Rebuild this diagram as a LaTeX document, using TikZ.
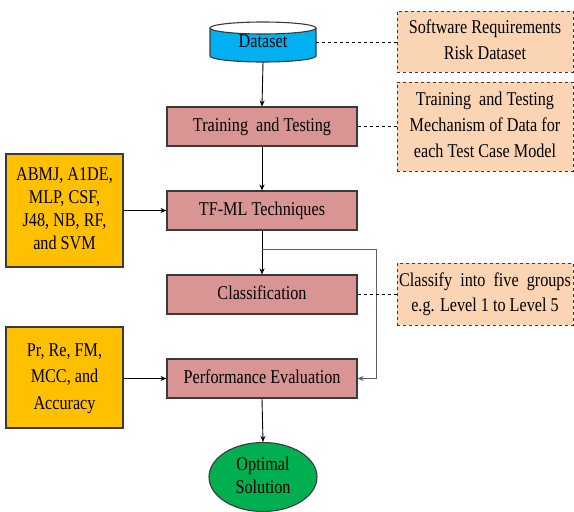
\documentclass[tikz,border=0pt]{standalone}
\usepackage{fontspec}
\setmainfont{Liberation Serif}
\usetikzlibrary{arrows.meta,shapes.geometric}
\definecolor{stepfill}{HTML}{D99594}
\definecolor{inputfill}{HTML}{FFC000}
\definecolor{notefill}{HTML}{FBD4B4}
\definecolor{dbfill}{HTML}{00B0F0}
\definecolor{endfill}{HTML}{00B050}
\definecolor{edge}{HTML}{3A3A3A}
% condensed multi-line label
\newcommand{\narrowtxt}[1]{\scalebox{0.83}[1]{\begin{tabular}{@{}c@{}}#1\end{tabular}}}
\tikzset{
  x=1pt, y=-1pt,
  txt/.style={font=\fontsize{19.5}{26}\selectfont, align=center, inner sep=0pt},
  stepbox/.style={txt, draw=edge, line width=1.1pt, fill=stepfill,
    minimum width=190pt, minimum height=39pt},
  inputbox/.style={txt, draw=edge, line width=1.1pt, fill=inputfill,
    minimum width=117pt},
  notebox/.style={txt, draw=edge, line width=1pt, dashed, fill=notefill,
    minimum width=176pt},
  flow/.style={draw=black, line width=0.9pt, -{Stealth[length=6pt,width=5pt]}},
  link/.style={draw=black, line width=1pt, dashed},
  side/.style={draw=gray!75!black, line width=0.9pt, -{Stealth[length=6pt,width=5pt]}}
}
\begin{document}
\begin{tikzpicture}
\useasboundingbox (0,0) rectangle (574,512);

% database cylinder
\fill[dbfill] (210,28) -- (210,56) arc[start angle=180, end angle=360, x radius=53, y radius=-6]
  -- (316,28) arc[start angle=0, end angle=180, x radius=53, y radius=6] -- cycle;
\draw[edge, line width=1.1pt] (210,28) -- (210,56) arc[start angle=180, end angle=360, x radius=53, y radius=-6]
  -- (316,28);
\draw[edge, line width=1.1pt] (263,28) ellipse[x radius=53, y radius=6];
\node[txt, minimum width=106pt, minimum height=40pt] (data) at (263,42) {\raisebox{-3pt}{\narrowtxt{Dataset}}};

% main steps
\node[stepbox] (train) at (262,126.5) {\narrowtxt{Training\ \ and Testing}};
\node[stepbox] (tech)  at (262,210.5) {\narrowtxt{TF-ML Techniques}};
\node[stepbox] (cls)   at (262,294.5) {\narrowtxt{Classification}};
\node[stepbox] (perf)  at (262,378.5) {\narrowtxt{Performance Evaluation}};
\node[ellipse, draw=edge, line width=1.1pt, fill=endfill, minimum width=108pt, minimum height=69pt,
  inner sep=0pt, align=center, font=\fontsize{19.5}{23}\selectfont] (opt) at (263,477)
  {\narrowtxt{Optimal\\Solution}};

% inputs
\node[inputbox, minimum height=113pt, font=\fontsize{19.5}{23}\selectfont] (algs) at (64.5,210.5)
  {\narrowtxt{ABMJ, A1DE,\\MLP, CSF,\\J48, NB, RF,\\and SVM}};
\node[inputbox, minimum height=101pt, font=\fontsize{19.5}{26.5}\selectfont] (metrics) at (64.5,377.5)
  {\narrowtxt{Pr, Re, FM,\\MCC, and\\Accuracy}};

% notes
\node[notebox, minimum height=61pt] (n1) at (485,41.5) {\narrowtxt{Software Requirements\\Risk Dataset}};
\node[notebox, minimum height=89pt] (n2) at (485,126.5)
  {\narrowtxt{Training\ \ and Testing\\Mechanism\ of Data for\\each Test Case Model}};
\node[notebox, minimum height=62pt, font=\fontsize{19.5}{25}\selectfont] (n3) at (485,294)
  {\narrowtxt{Classify\ \ into\ \ five\ \ groups\\e.g. Level 1 to Level 5}};

% flow
\draw[flow] (data.south) -- (train.north);
\draw[flow] (train.south) -- (tech.north);
\coordinate (split) at (262,249);
\coordinate (c1) at (376,249);
\coordinate (c2) at (376,378.5);
\draw[flow] (tech.south) -- (cls.north);
\draw[side] (split) -- (c1) -- (c2) -- (perf.east);
\draw[flow] (perf.south) -- (opt.north);
\draw[flow] (algs.east) -- (tech.west);
\draw[flow] (metrics.east |- perf.west) -- (perf.west);

% note links
\draw[link] (data.east) -- (n1.west |- data.east);
\draw[link] (train.east) -- (n2.west |- train.east);
\draw[link] (cls.east) -- (n3.west |- cls.east);
\end{tikzpicture}
\end{document}
